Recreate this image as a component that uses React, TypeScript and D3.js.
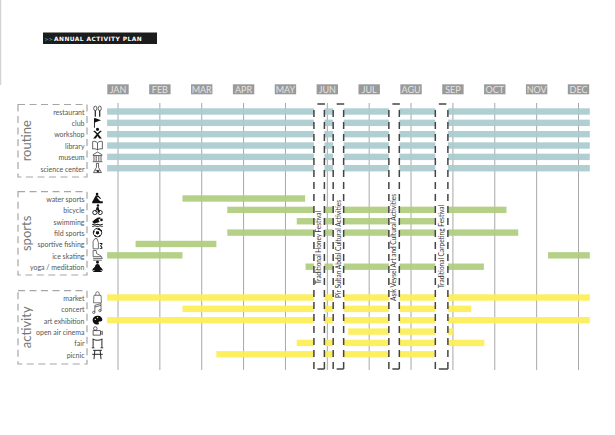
import { scaleLinear, scalePoint } from 'd3';

const months = ['JAN', 'FEB', 'MAR', 'APR', 'MAY', 'JUN', 'JUL', 'AGU', 'SEP', 'OCT', 'NOV', 'DEC'];

const routineRows = ['restaurant', 'club', 'workshop', 'library', 'museum', 'science center'];
const sportsRows = ['water sports', 'bicycle', 'swimming', 'fild sports', 'sportive fishing', 'ice skating', 'yoga / meditation'];
const activityRows = ['market', 'concert', 'art exhibition', 'open air cinema', 'fair', 'picnic'];

// spans in month units, 0 = JAN line, 11 = DEC line
const routineSpans: [string, number, number][] = [
  ['restaurant', -0.26, 11.27],
  ['club', -0.26, 11.27],
  ['workshop', -0.26, 11.27],
  ['library', -0.26, 11.27],
  ['museum', -0.26, 11.27],
  ['science center', -0.26, 11.27],
];
const sportsSpans: [string, number, number][] = [
  ['water sports', 1.54, 4.47],
  ['bicycle', 2.61, 9.28],
  ['swimming', 4.27, 7.56],
  ['fild sports', 2.61, 9.56],
  ['sportive fishing', 0.42, 2.35],
  ['ice skating', -0.26, 1.54],
  ['ice skating', 10.27, 11.27],
  ['yoga / meditation', 4.48, 8.74],
];
const activitySpans: [string, number, number][] = [
  ['market', -0.26, 11.27],
  ['concert', 1.54, 8.44],
  ['art exhibition', -0.26, 11.27],
  ['open air cinema', 5.5, 8.0],
  ['fair', 4.27, 8.75],
  ['picnic', 2.35, 7.56],
];

const festivals = [
  { name: 'Traditional Honey Festival', from: 4.68, to: 4.93, textAt: 4.8, textEnd: 284, len: 73 },
  { name: 'Pir Sultan Abdal Cultural Activities', from: 5.14, to: 5.39, textAt: 5.27, textEnd: 298, len: 98 },
  { name: 'Aşık Veysel Art and Cultural Activities', from: 6.47, to: 6.72, textAt: 6.59, textEnd: 301, len: 107 },
  { name: 'Traditional Carpeting Festival', from: 7.58, to: 7.88, textAt: 7.73, textEnd: 288, len: 83 },
];

const x = scaleLinear().domain([0, 11]).range([118, 578.5]);

const groups = [
  { name: 'routine', rows: routineRows, spans: routineSpans, color: '#a9cbce', range: [111.5, 168.2], box: [104.5, 177] },
  { name: 'sports', rows: sportsRows, spans: sportsSpans, color: '#afcd7e', range: [198.5, 266.7], box: [191.7, 275] },
  { name: 'activity', rows: activityRows, spans: activitySpans, color: '#fdee55', range: [297.5, 354.3], box: [290.7, 364] },
];

const ink = { stroke: '#222', strokeWidth: 0.8, fill: 'none' };

const icons: Record<string, JSX.Element> = {
  restaurant: (
    <g {...ink}>
      <ellipse cx={-2.5} cy={-3.5} rx={1.8} ry={2.6} />
      <ellipse cx={2.5} cy={-3.5} rx={1.8} ry={2.6} />
      <path d="M-2.5-1V6M2.5-1V6" strokeWidth={1.4} />
    </g>
  ),
  club: <path d="M-4-5V5.5h1V-.5L4-3-3-5.5z" fill="#111" />,
  workshop: <path d="M-5-3.5-1 0-5 5H-2L0 2 2 5H5L1 0 5-3.5 3-4 0-1-3-4zM-1.8-5.5a1.8 1.8 0 1 0 3.6 0 1.8 1.8 0 1 0-3.6 0" fill="#111" />,
  library: (
    <g {...ink}>
      <path d="M0-3C-2-5-4-5-5.5-4.5V4C-4 3.500-2 3.500 0 5 2 3.500 4 3.500 5.500 4V-4.500C4-5 2-5 0-3V5" />
    </g>
  ),
  museum: (
    <g {...ink}>
      <path d="M-5-2.500 0-5.500 5-2.500V-1.500H-5zM-4-1V5M4-1V5M-1.500-1V5M1.500-1V5M-5.500 5.500H5.500" />
    </g>
  ),
  'science center': (
    <g {...ink}>
      <path d="M-1.200-5.500V-1L-4.500 5H4.500L1.200-1V-5.500zM-2.500 2.500H2.500" />
      <circle cx={0.5} cy={3.5} r={1} fill="#222" />
    </g>
  ),
  'water sports': <path d="M-6 5.500 6 5.500V3H3L-1-1.500 1-1.500 3 .5 4 0 1-3.500-2-3.500-4.500 1 -5.500 3H-6zM-2-5a1.500 1.500 0 1 0 3 0 1.500 1.500 0 1 0-3 0" fill="#111" />,
  bicycle: (
    <g>
      <circle cx={-3} cy={3} r={2.4} fill="none" stroke="#111" strokeWidth={1} />
      <circle cx={3} cy={3} r={2.4} fill="none" stroke="#111" strokeWidth={1} />
      <circle cx={0.5} cy={-5} r={1.4} fill="#111" />
      <path d="M-3 3-1-3 1-3.500 3 3 1 3-.5-.5z" fill="#111" />
    </g>
  ),
  swimming: <path d="M-6 .5-3-2 0-4 3-4.500 3.500-3 1-2 2.500 1-4 3zM3-1.500a1.500 1.500 0 1 0 3 0 1.500 1.500 0 1 0-3 0M-6 2.800-3 3.800 0 2.800 3 3.800 6 2.800V4L3 5 0 4-3 5-6 4zM-6 5-3 6 0 5 3 6 6 5V6.200H-6z" fill="#111" />,
  'fild sports': (
    <g>
      <circle r={4.8} fill="#fff" stroke="#111" strokeWidth={1} />
      <path d="M-1.500-1.500H1.500L2 1 0 2.500-2 1zM-2-5-.5-3.800 2-5 3-3.500 5-3 4.500-.5 3.200-2-1.500-4zM-5-1-3.500-2-3-.5-4-.5-4.500 1.500zM-4 3-2 3-1 5-3 4.500zM4 3 2 3 1 5 3 4.500z" fill="#111" />
    </g>
  ),
  'sportive fishing': (
    <g>
      <path d="M-5 5.500V-3L-3-6H-.5L1-1.500V5.500z" fill="none" stroke="#333" strokeWidth={0.8} />
      <path d="M2.500-1H5.500V.500L4 2 5.500 3.500V5.500H2.500V4.500H4.500L3 2 4.500.2V0H2.500z" fill="#111" />
    </g>
  ),
  'ice skating': <path d="M-5-5.500V1.500H4.500L5.500 3.500H-5M-5-5.500H-1.500L-1-2 3 0 4.500 1.500M-5 5.500H5" {...ink} stroke="#333" />,
  'yoga / meditation': <path d="M-1.700-5a1.700 1.700 0 1 0 3.400 0 1.700 1.700 0 1 0-3.400 0M0-3C-2-3-2.500-1.500-3 0L-5.500 2.500-6 4.500-2.500 3.500-5.500 6H5.500L2.500 3.500 6 4.500 5.500 2.500 3 0C2.500-1.500 2-3 0-3z" fill="#111" />,
  market: <path d="M-4-2.500H4L4.500 6H-4.500zM-2-2.500V-4.500A2 2 0 0 1 2-4.500V-2.500" {...ink} stroke="#444" />,
  concert: (
    <g {...ink} stroke="#333">
      <path d="M-3 4V-4L4-6V2M-3-2 4-4" />
      <circle cx={-4.300} cy={4} r={1.300} />
      <circle cx={2.700} cy={2} r={1.300} />
    </g>
  ),
  'art exhibition': (
    <g>
      <path d="M-5.500 0C-5.500-3.500-2.500-5 .5-5 3.500-5 5.500-3 5.500-.5 5.500 1.500 3.500 1.500 2.500 1.500 1 1.500 1 3 1.500 3.500 2 4.500 1 5 0 5-3 5-5.500 3-5.500 0z" fill="#111" />
      <circle cx={-2.500} cy={-1} r={0.8} fill="#fff" />
      <circle cx={0} cy={-3} r={0.8} fill="#fff" />
    </g>
  ),
  'open air cinema': (
    <g {...ink}>
      <rect x={-5} y={-1} width={8.500} height={5} />
      <circle cx={-2.500} cy={-3.500} r={2} />
      <path d="M3.500 1 5.500-.5V3.500L3.500 2" />
    </g>
  ),
  fair: (
    <g {...ink} strokeWidth={1.1}>
      <path d="M-5-4.500V5M-6.500 5.500H-3.500M5-4.500V5M3.500 5.500H6.500M-5.500-4.500C-2-2.500 2-2.500 5.500-4.500" />
    </g>
  ),
  picnic: (
    <g {...ink} strokeWidth={1.1}>
      <path d="M-5-4.500H5M-3-4.500-4 5.500M3-4.500 4 5.500M-6 0H6" />
    </g>
  ),
};

const App = () => {
  const font = "Lato, 'Open Sans', sans-serif";
  return (
    <svg width={615} height={435} style={{ position: 'absolute', left: 0, top: 0, background: '#fff' }} fontFamily={font}>
      <line x1={0.5} x2={0.5} y1={0} y2={85} stroke="#d4d4d4" strokeWidth={1.5} />

      {/* title */}
      <rect x={43} y={32.5} width={114} height={11.500} fill="#1c1c1c" />
      <text x={44.500} y={40.800} fontSize={5} fontWeight={700} fontFamily="'DejaVu Sans', sans-serif" fill="#2aa5ad">&gt;&gt;</text>
      <text x={54} y={40.800} fontSize={5.900} fontWeight={700} fontFamily="'DejaVu Sans', sans-serif" fill="#fff" letterSpacing={0.45}>ANNUAL ACTIVITY PLAN</text>

      {/* month lines */}
      {months.map((m, i) => (
        <line key={m} x1={x(i)} x2={x(i)} y1={103} y2={370} stroke="#a8a8a8" strokeWidth={1} />
      ))}

      {/* month tags */}
      {months.map((m, i) => (
        <g key={m}>
          <rect x={x(i) - 10.700} y={84.300} width={21.400} height={10} fill="#9a9a9a" />
          <text x={x(i)} y={92.500} textAnchor="middle" fontSize={9} fill="#e4e4e4">{m}</text>
        </g>
      ))}

      {groups.map((g) => {
        const y = scalePoint<string>().domain(g.rows).range(g.range as [number, number]);
        return (
          <g key={g.name}>
            {g.spans.map((s, i) => (
              <rect
                key={i}
                x={x(s[1])}
                width={x(s[2]) - x(s[1])}
                y={(y(s[0]) as number) - 3.200}
                height={6.400}
                fill={g.color}
                opacity={0.92}
              />
            ))}
            <rect
              x={18}
              y={g.box[0]}
              width={69}
              height={g.box[1] - g.box[0]}
              fill="none"
              stroke="#a6a6a6"
              strokeWidth={1.200}
              strokeDasharray="7 4.500"
            />
            <text
              transform={`translate(31,${(g.box[0] + g.box[1]) / 2}) rotate(-90)`}
              textAnchor="middle"
              fontSize={13}
              fill="#777"
            >
              {g.name}
            </text>
            {g.rows.map((r) => (
              <g key={r}>
                <text x={84.500} y={(y(r) as number) + 3.300} textAnchor="end" fontSize={7} fill="#555">{r}</text>
                <g transform={`translate(97.500,${y(r) as number}) scale(0.88)`}>{icons[r]}</g>
              </g>
            ))}
          </g>
        );
      })}

      {/* festival boxes sit on top of the bars */}
      {festivals.map((f) => (
        <g key={f.name}>
          <rect x={x(f.from)} y={104} width={x(f.to) - x(f.from)} height={265} fill="#fff" />
          <g fill="none" stroke="#444" strokeWidth={1.500}>
            <line x1={x(f.from)} x2={x(f.from)} y1={369} y2={106} strokeDasharray="7 5" />
            <line x1={x(f.to)} x2={x(f.to)} y1={369} y2={106} strokeDasharray="7 5" />
            <line x1={x(f.from) + 3.500} x2={x(f.from) + 11} y1={104} y2={104} />
            <line x1={x(f.from) + 3.500} x2={x(f.to)} y1={369} y2={369} />
          </g>
          <text
            transform={`translate(${x(f.textAt) + 2.500},${f.textEnd}) rotate(-90)`}
            fontSize={7.400}
            fill="#333"
            textLength={f.len}
            lengthAdjust="spacingAndGlyphs"
          >
            {f.name}
          </text>
        </g>
      ))}
    </svg>
  );
};

export default App;
